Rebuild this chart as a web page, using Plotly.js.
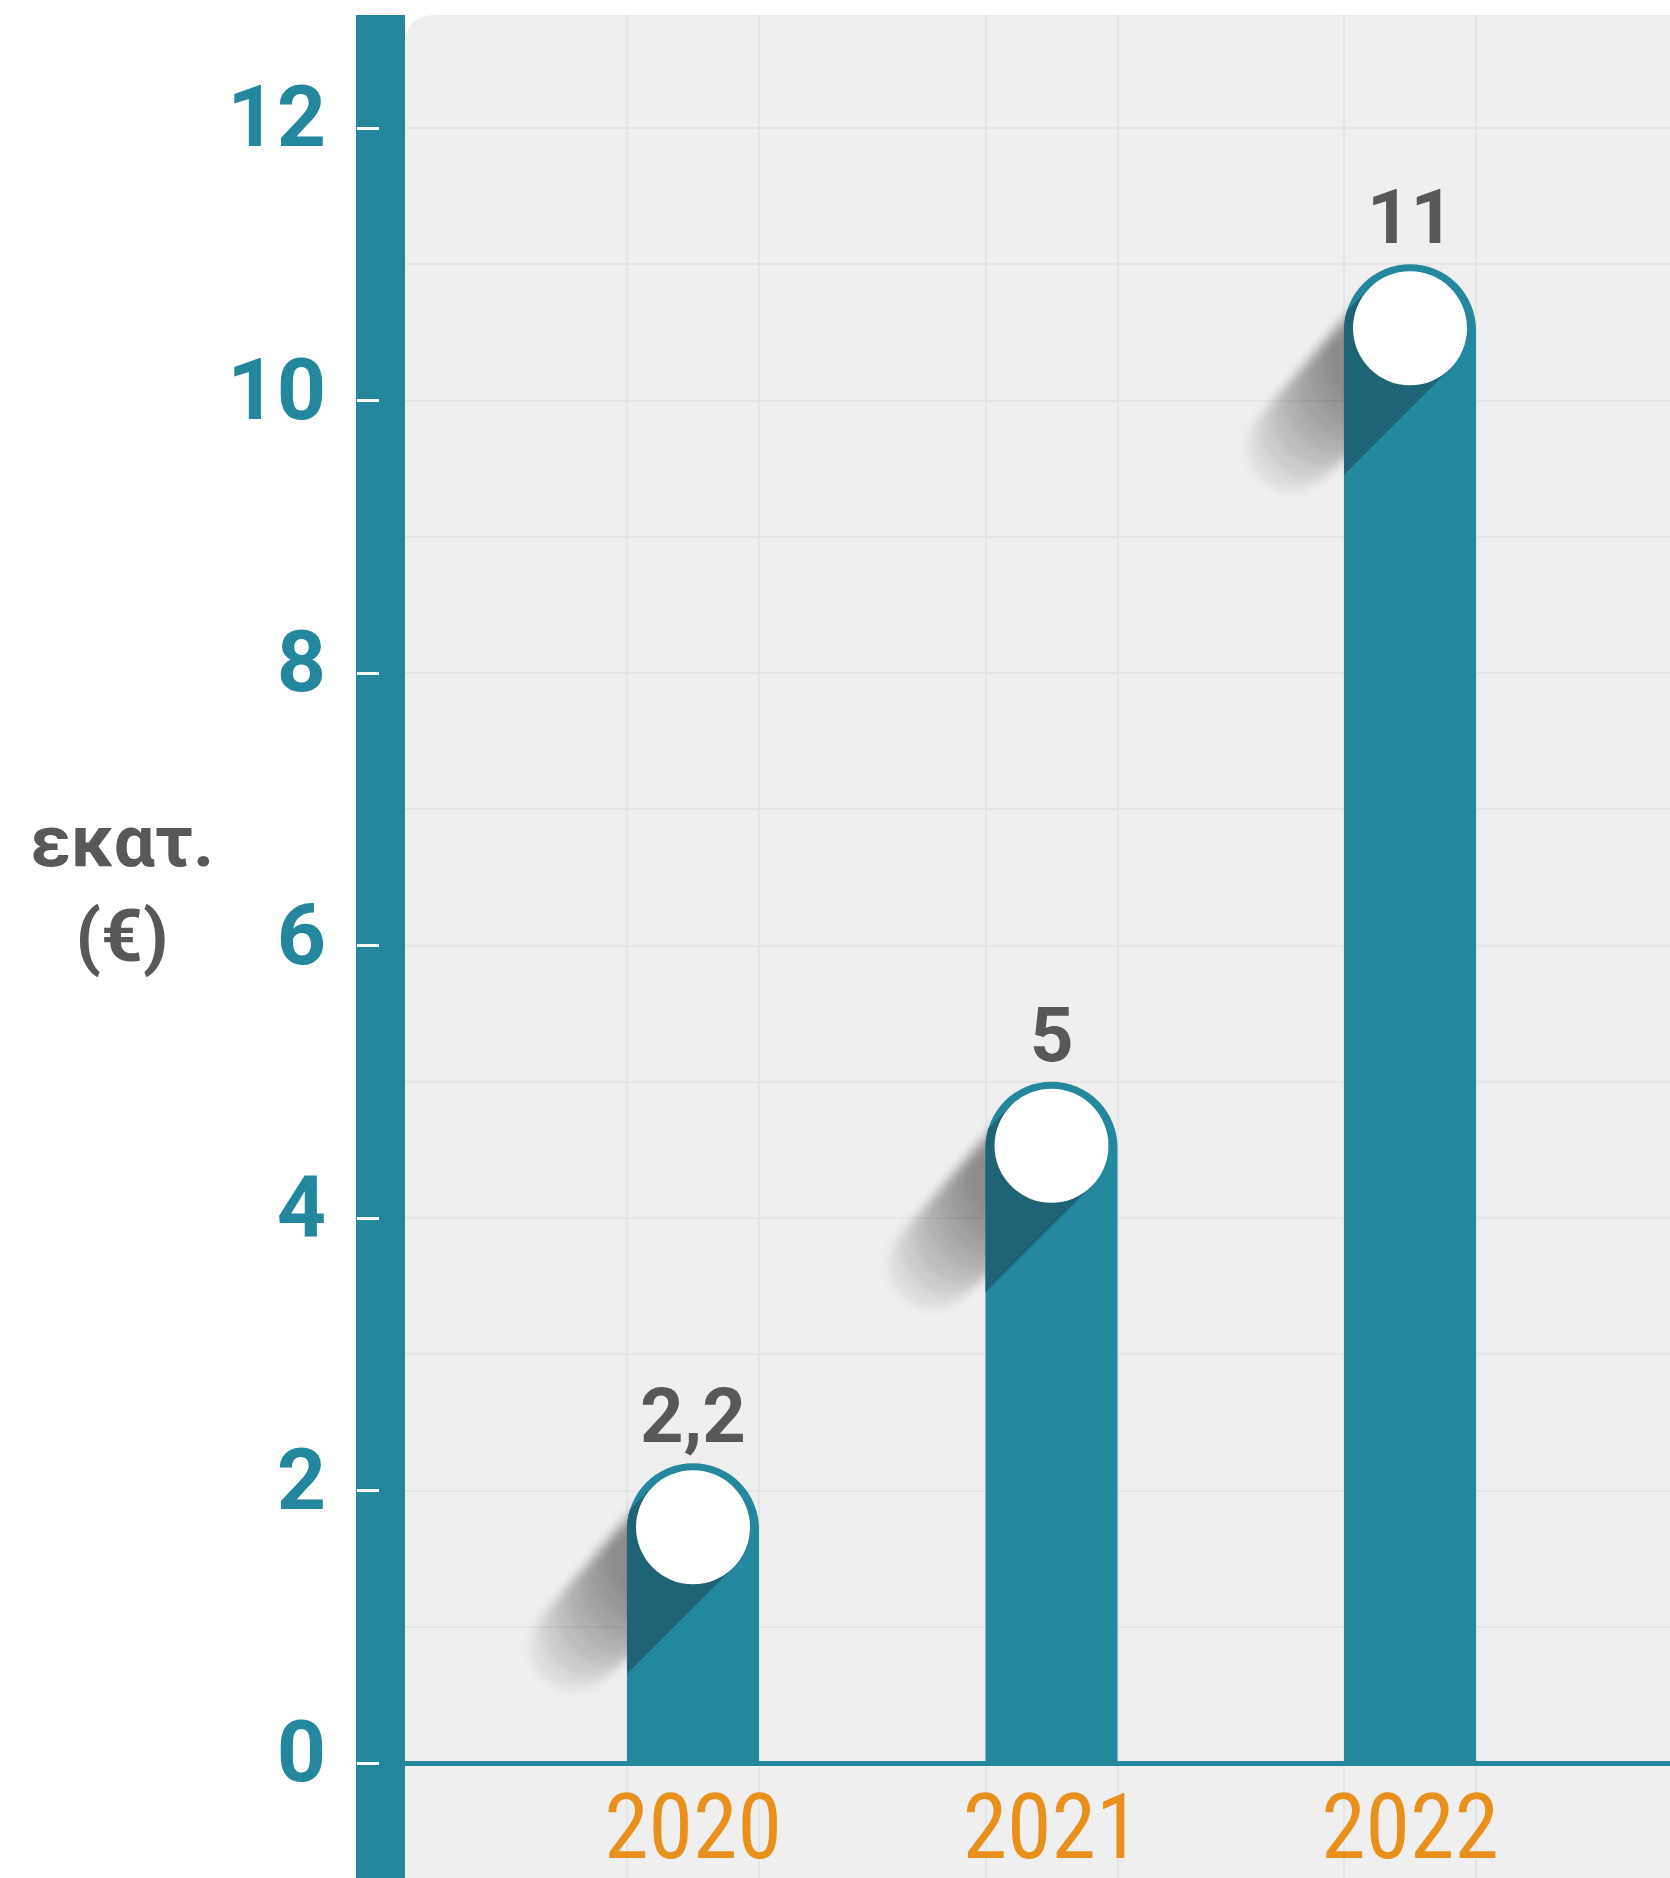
<!DOCTYPE html>
<html>
<head>
<meta charset="utf-8">
<script src="https://cdn.plot.ly/plotly-3.0.1.min.js"></script>
<style>html,body{margin:0;padding:0;background:#fff;}#chart{width:1670px;height:1878px;}</style>
</head>
<body>
<div id="chart"></div>
<script>
// ---- data ----
const years = ['2020', '2021', '2022'];
const values = [2.2, 5, 11];
const valueLabels = ['2,2', '5', '11'];
const yTickVals = [0, 2, 4, 6, 8, 10, 12];
const yTickText = ['0', '2', '4', '6', '8', '10', '12'];
const yUnitLabel = 'εκατ.<br>(€)';

// ---- style ----
const W = 1670, H = 1878;
const M = {l: 405, r: 0, t: 15, b: 0};
const teal = '#23879e';
const darkTeal = '#1e6476';
const orange = '#e8901b';
const grayText = '#58585a';
const panel = '#efefef';
const gridCol = '#e5e5e5';

const plotW = W - M.l - M.r, plotH = H - M.t - M.b;
const pxPerCat = 358.5;
const xMin = -(693 - M.l) / pxPerCat;
const xMax = xMin + plotW / pxPerCat;
const pxPerUnit = 136.25;
const yMax = 12 + (128 - M.t) / pxPerUnit;
const yMin = yMax - plotH / pxPerUnit;
const barPx = 132;
const barW = barPx / pxPerCat;
const xIdx = years.map((_, i) => i);
const edges = [];
xIdx.forEach(i => { edges.push(i - barW / 2, i + barW / 2); });

// capsule path in pixel offsets (y up)
function capsule(p0, p1, r) {
  const dx = p1[0] - p0[0], dy = p1[1] - p0[1];
  const L = Math.hypot(dx, dy);
  const d = [dx / L, dy / L], n = [-d[1], d[0]];
  const k = 0.5523 * r;
  const P = (b, a1, v1, a2, v2) => [b[0] + a1 * v1[0] + a2 * v2[0], b[1] + a1 * v1[1] + a2 * v2[1]];
  const f = p => p[0].toFixed(2) + ',' + p[1].toFixed(2);
  const s = [];
  s.push('M' + f(P(p0, r, n, 0, d)));
  s.push('L' + f(P(p1, r, n, 0, d)));
  s.push('C' + f(P(p1, r, n, k, d)) + ' ' + f(P(p1, r, d, k, n)) + ' ' + f(P(p1, r, d, 0, n)));
  s.push('C' + f(P(p1, r, d, -k, n)) + ' ' + f(P(p1, -r, n, k, d)) + ' ' + f(P(p1, -r, n, 0, d)));
  s.push('L' + f(P(p0, -r, n, 0, d)));
  s.push('C' + f(P(p0, -r, n, -k, d)) + ' ' + f(P(p0, -r, d, -k, n)) + ' ' + f(P(p0, -r, d, 0, n)));
  s.push('C' + f(P(p0, -r, d, k, n)) + ' ' + f(P(p0, r, n, -k, d)) + ' ' + f(P(p0, r, n, 0, d)));
  s.push('Z');
  return s.join(' ');
}

const shapes = [];
const shadowIdx = [];
// background panel with rounded top-left corner
shapes.push({
  type: 'path', layer: 'below', xref: 'paper', yref: 'paper',
  xsizemode: 'pixel', ysizemode: 'pixel', xanchor: 0, yanchor: 1,
  path: `M0,${-plotH} L0,-30 Q0,0 30,0 L${plotW},0 L${plotW},${-plotH} Z`,
  fillcolor: panel, line: {width: 0}
});
// thick teal axis band
shapes.push({
  type: 'rect', layer: 'below', xref: 'paper', yref: 'paper',
  xsizemode: 'pixel', xanchor: 0, x0: -49, x1: 0, y0: 0, y1: 1,
  fillcolor: teal, line: {width: 0}
});

const hw = barPx / 2;
const circR = 57;
const cy = -64;
const s2 = Math.SQRT1_2;
xIdx.forEach((xi, i) => {
  const v = values[i];
  // soft gray long shadow (under the bars)
  for (let k = 0; k < 7; k++) {
    const t = 28 + 15 * k;
    const r = 57 - 2 * k;
    shadowIdx.push(shapes.length);
    shapes.push({
      type: 'path', layer: 'between', xref: 'x', yref: 'y',
      xsizemode: 'pixel', ysizemode: 'pixel', xanchor: xi, yanchor: v,
      path: capsule([0, cy], [-t, cy - t], r),
      fillcolor: 'rgba(0,0,0,0.075)', line: {width: 0}
    });
  }
  // dark shadow on the bar
  const B = [-circR * s2, cy + circR * s2];
  const A = [circR * s2, cy - circR * s2];
  const bx = B[0], by = B[1] + hw;
  const dd = [-s2, -s2];
  const bb = 2 * (bx * dd[0] + by * dd[1]);
  const cc = bx * bx + by * by - hw * hw;
  const sP = (-bb + Math.sqrt(bb * bb - 4 * cc)) / 2;
  const Pp = [B[0] + sP * dd[0], B[1] + sP * dd[1]];
  const angP = Math.atan2(Pp[1] + hw, Pp[0]);
  const arc = [];
  for (let j = 1; j <= 4; j++) {
    const a = angP + (Math.PI - angP) * j / 4;
    arc.push([hw * Math.cos(a), -hw + hw * Math.sin(a)]);
  }
  const Ad = [-hw, A[1] - (A[0] + hw)];
  const pts = [A, B, Pp, ...arc, Ad];
  shapes.push({
    type: 'path', layer: 'above', xref: 'x', yref: 'y',
    xsizemode: 'pixel', ysizemode: 'pixel', xanchor: xi, yanchor: v,
    path: 'M' + pts.map(p => p[0].toFixed(2) + ',' + p[1].toFixed(2)).join(' L') + ' Z',
    fillcolor: darkTeal, line: {width: 0}
  });
  // white knob
  shapes.push({
    type: 'circle', layer: 'above', xref: 'x', yref: 'y',
    xsizemode: 'pixel', ysizemode: 'pixel', xanchor: xi, yanchor: v,
    x0: -circR, x1: circR, y0: cy - circR, y1: cy + circR,
    fillcolor: '#ffffff', line: {width: 0}
  });
});

const annotations = xIdx.map((xi, i) => ({
  x: xi, y: values[i], xref: 'x', yref: 'y', text: valueLabels[i],
  showarrow: false, yanchor: 'bottom', yshift: 0,
  font: {family: 'Roboto, sans-serif', size: 76, color: grayText, weight: 700}
}));
annotations.push({
  xref: 'paper', yref: 'paper',
  x: (122 - M.l) / plotW, y: (H - 888) / plotH,
  text: yUnitLabel, showarrow: false, xanchor: 'center', yanchor: 'middle', align: 'center',
  font: {family: 'Roboto, sans-serif', size: 73, color: grayText, weight: 700}
});

const trace = {
  type: 'bar', x: xIdx, y: values, width: barW,
  marker: {color: teal, cornerradius: '50%', line: {width: 0}},
  hoverinfo: 'skip'
};

const layout = {
  width: W, height: H,
  margin: {l: M.l, r: M.r, t: M.t, b: M.b, pad: 0},
  paper_bgcolor: '#ffffff', plot_bgcolor: 'rgba(0,0,0,0)',
  showlegend: false,
  xaxis: {
    type: 'linear', range: [xMin, xMax], fixedrange: true,
    anchor: 'free', position: -yMin / (yMax - yMin),
    tickmode: 'array', tickvals: xIdx, ticktext: years,
    ticks: '', showgrid: false, zeroline: false, showline: false,
    ticklabelstandoff: 4,
    tickfont: {family: '"Liberation Sans Narrow", "Roboto Condensed", Roboto, sans-serif', size: 90, color: orange},
    minor: {tickmode: 'array', tickvals: edges, showgrid: true, gridcolor: gridCol, gridwidth: 2, ticks: ''}
  },
  yaxis: {
    range: [yMin, yMax], fixedrange: true,
    anchor: 'free', position: 0, shift: -49,
    tickmode: 'array', tickvals: yTickVals, ticktext: yTickText,
    ticks: 'inside', ticklen: 22, tickwidth: 3, tickcolor: '#ffffff',
    ticklabelstandoff: 30, ticklabelshift: -12,
    tickfont: {family: 'Roboto, sans-serif', size: 86, color: teal, weight: 700},
    showgrid: true, gridcolor: gridCol, gridwidth: 2,
    minor: {dtick: 1, showgrid: true, gridcolor: gridCol, gridwidth: 2, ticks: ''},
    zeroline: true, zerolinecolor: teal, zerolinewidth: 5,
    showline: false
  },
  shapes: shapes,
  annotations: annotations
};

Plotly.newPlot('chart', [trace], layout, {staticPlot: true, displayModeBar: false}).then(gd => {
  const ns = 'http://www.w3.org/2000/svg';
  const svg = gd.querySelector('svg.main-svg');
  let defs = svg.querySelector('defs');
  if (!defs) { defs = document.createElementNS(ns, 'defs'); svg.insertBefore(defs, svg.firstChild); }
  const f = document.createElementNS(ns, 'filter');
  f.setAttribute('id', 'shblur');
  f.setAttribute('x', '-50%'); f.setAttribute('y', '-50%');
  f.setAttribute('width', '200%'); f.setAttribute('height', '200%');
  const g = document.createElementNS(ns, 'feGaussianBlur');
  g.setAttribute('stdDeviation', '5');
  f.appendChild(g); defs.appendChild(f);
  shadowIdx.forEach(idx => {
    gd.querySelectorAll('path[data-index="' + idx + '"]').forEach(p => p.setAttribute('filter', 'url(#shblur)'));
  });
});
</script>
</body>
</html>
